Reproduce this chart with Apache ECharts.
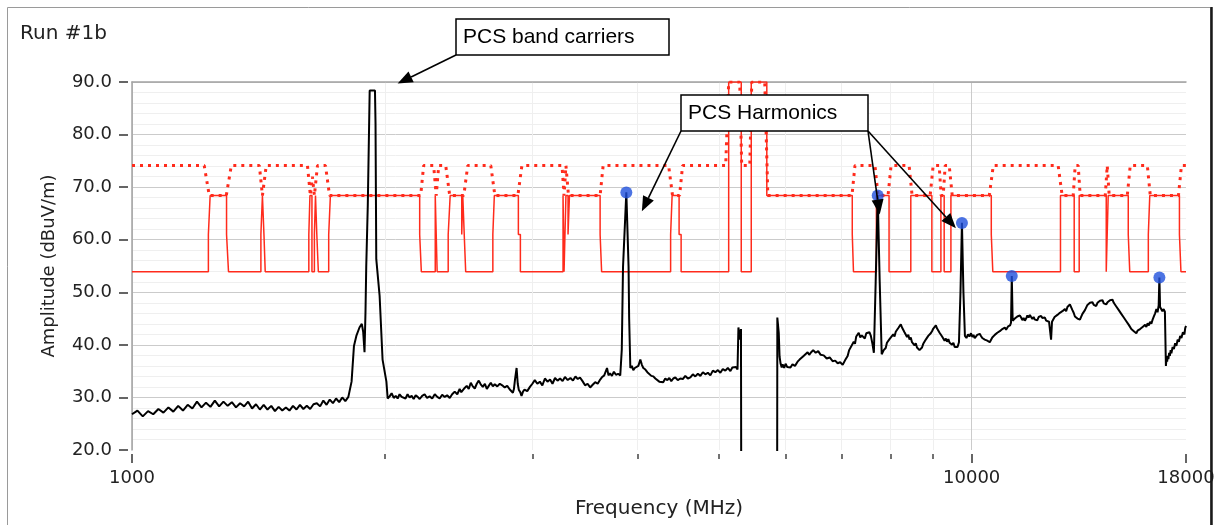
<!DOCTYPE html>
<html>
<head>
<meta charset="utf-8">
<script src="https://cdn.jsdelivr.net/npm/echarts@6/dist/echarts.min.js"></script>
<style>
  html, body { margin: 0; padding: 0; background: #fff; }
  #chart { width: 1216px; height: 525px; }
</style>
</head>
<body>
<div id="chart"></div>
<script>
// Axis ticks
const yTickValues = [20, 30, 40, 50, 60, 70, 80, 90];
const xMinorTicks = [2000, 3000, 4000, 5000, 6000, 7000, 8000, 9000];

// Measured spectrum, [frequency MHz, amplitude dBuV/m]
const spectrumLow = [
  [1000,26.8],[1015,27.5],[1030,26.4],[1045,27.4],[1060,26.8],[1075,27.8],[1090,27.1],[1105,28.1],
  [1120,27.3],[1135,28.4],[1150,27.5],[1165,28.6],[1180,27.9],[1195,29.2],[1210,28.1],[1225,29.0],
  [1240,28.2],[1255,29.4],[1270,28.3],[1285,29.2],[1300,28.4],[1315,29.1],[1330,28.1],[1345,28.9],
  [1360,28.3],[1375,29.2],[1390,27.9],[1405,28.7],[1420,27.7],[1435,28.6],[1450,27.7],[1465,28.4],
  [1480,27.4],[1495,28.2],[1510,27.5],[1525,28.1],[1540,27.5],[1555,28.4],[1570,27.7],[1585,28.6],
  [1600,27.8],[1615,28.4],[1630,27.8],[1645,28.7],[1660,28.9],[1675,28.3],[1690,29.4],[1705,28.6],
  [1720,29.6],[1735,28.9],[1750,29.8],[1765,29.1],[1780,30.0],[1795,29.3],[1810,30.1]
];
const spectrumCarrier = [
  [1826,33.0],[1838,39.8],[1850,41.7],[1866,43.3],[1878,44.0],[1885,42.5],[1892,38.6],[1897,46.2],
  [1901,55.0],[1909,66.5],[1919,88.4],[1947,88.4],[1950,82.0],[1954,56.3],[1972,49.3],[1988,37.2],
  [2009,33.0],[2016,29.8]
];
const spectrumMid = [
  [2027,30.2],[2038,30.8],[2050,29.9],[2061,30.3],[2072,29.8],[2083,30.6],[2095,30.1],[2106,30.4],
  [2117,29.8],[2129,30.6],[2141,30.0],[2153,30.3],[2165,29.7],[2177,30.4],[2189,30.1],[2201,29.7],
  [2216,30.3],[2231,30.6],[2246,29.9],[2262,30.2],[2278,29.8],[2294,30.6],[2310,30.1],[2325,29.8],
  [2341,30.5],[2357,30.1],[2373,30.4],[2390,29.9],[2406,30.6],[2423,31.1],[2440,30.6],[2456,31.6],
  [2467,31.0],[2477,30.8],[2490,31.8],[2504,32.2],[2518,31.6],[2532,32.8],[2546,32.1],[2560,31.7],
  [2574,32.6],[2588,33.2],[2602,32.5],[2617,32.0],[2632,32.6],[2646,31.6],[2660,32.2],[2675,32.8],
  [2690,32.1],[2704,32.5],[2723,32.1],[2742,32.6],[2760,32.3],[2779,31.9],[2798,32.2],[2818,31.5],
  [2830,31.8],[2842,30.9],[2850,31.6],[2859,33.5],[2871,35.6],[2880,32.6],[2889,31.4],[2900,31.0],
  [2910,30.3],[2922,31.1],[2934,31.5],[2956,31.2],[2978,32.0],[2998,32.6],[3018,33.3],[3039,32.6],
  [3060,33.0],[3081,32.3],[3103,33.6],[3125,33.0],[3147,33.4],[3168,32.6],[3190,33.7],[3212,33.2],
  [3235,33.6],[3257,33.1],[3278,33.9],[3303,33.3],[3328,33.7],[3351,33.2],[3374,34.0],[3395,33.5],
  [3416,33.8],[3440,33.1],[3464,32.3],[3488,32.6],[3513,31.9],[3537,32.4],[3562,32.9],[3586,32.6],
  [3611,33.4],[3631,33.9],[3651,34.2],[3665,34.0],[3679,35.6],[3694,34.2],[3709,34.6],[3729,34.1],
  [3749,34.9],[3770,34.3],[3792,34.5],[3815,34.2],
  [3831,39.1],[3844,54.8],[3879,69.0],[3903,54.8],[3909,45.2],[3922,35.6],
  [3938,36.0],[3954,35.2],[3970,35.6],[3987,35.4],[4009,36.0],[4031,37.2],[4048,36.2],[4064,35.6],
  [4087,35.3],[4109,34.8],[4131,34.6],[4154,34.1],[4177,34.0],[4200,33.6],[4223,33.4],[4246,33.0],
  [4269,33.3],[4292,32.9],[4316,33.6],[4341,33.3],[4364,33.7],[4388,33.1],[4412,33.6],[4437,33.8],
  [4467,33.3],[4498,33.6],[4529,33.5],[4560,34.1],[4592,33.6],[4624,33.8],[4655,34.4],[4687,34.0],
  [4720,34.5],[4752,34.1],[4785,34.8],[4818,34.4],[4851,34.7],[4884,34.2],[4918,35.1],[4952,34.8],
  [4986,35.2],[5020,34.7],[5054,35.4],[5089,35.1],[5124,35.6],[5160,35.0],[5188,35.7],[5216,35.4],
  [5240,35.8],[5262,35.3],[5275,43.3],[5300,41.0],[5312,43.0],[5316,12],[5866,12]
];
const spectrumHigh = [
  [5869,45.2],[5892,42.3],[5905,37.8],[5922,36.4],[5940,35.7],[5955,36.3],[5980,35.6],[6003,36.4],
  [6030,35.8],[6052,36.1],[6085,35.7],[6118,36.3],[6160,36.0],[6204,36.8],[6238,37.2],[6270,36.9],
  [6307,37.9],[6340,38.0],[6377,38.6],[6405,38.1],[6432,38.5],[6475,39.0],[6520,38.5],[6565,38.8],
  [6610,38.1],[6665,38.0],[6720,37.4],[6775,37.6],[6830,36.9],[6878,37.0],[6925,36.5],[6973,36.7],
  [7021,36.2],[7069,37.1],[7117,37.9],[7147,39.0],[7177,38.8],[7237,40.6],[7262,40.2],[7287,41.6],
  [7337,42.3],[7368,41.4],[7398,41.8],[7460,41.2],[7491,42.2],[7522,41.9],[7555,42.4],[7585,41.7],
  [7620,40.1],[7648,38.5],[7686,52.0],[7729,68.4],[7771,52.0],[7814,38.2],[7857,39.0],[7900,39.4],
  [7927,40.4],[7955,40.1],[7983,41.1],[8010,40.8],[8065,42.0],[8093,41.6],[8121,42.5],[8150,42.2],
  [8178,43.2],[8206,42.9],[8234,43.9],[8262,43.3],[8290,43.4],[8318,42.4],[8347,42.2],[8376,41.5],
  [8405,41.9],[8433,41.0],[8462,41.4],[8491,40.5],[8520,40.8],[8550,39.9],[8579,40.3],[8608,39.5],
  [8638,39.8],[8667,39.0],[8697,39.3],[8727,39.5],[8757,40.2],[8788,40.4],[8818,41.0],[8848,40.8],
  [8878,41.7],[8909,41.4],[8939,42.2],[8970,42.6],[9002,43.1],[9033,42.8],[9065,43.7],[9096,43.1],
  [9127,43.2],[9158,42.3],[9190,42.5],[9221,41.6],[9253,41.7],[9285,40.8],[9317,41.2],[9349,40.6],
  [9381,41.1],[9413,40.4],[9445,40.7],[9478,40.0],[9511,40.4],[9545,39.6],[9578,39.9],[9620,39.6],
  [9658,40.5],[9698,50.0],[9737,63.2],[9777,50.0],[9817,41.7],[9858,41.3],[9899,42.0],[9940,41.6],
  [9981,42.2],[10019,41.5],[10050,41.9],[10085,41.3],[10119,41.6],[10154,41.9],[10189,41.6],[10224,42.1],
  [10259,41.7],[10295,41.3],[10330,41.5],[10366,41.0],[10401,41.3],[10437,40.8],[10473,41.0],[10509,40.5],
  [10545,40.8],[10582,41.4],[10618,41.1],[10655,41.9],[10691,41.6],[10728,42.3],[10765,42.0],[10802,42.6],
  [10839,42.3],[10877,43.0],[10914,42.7],[10952,43.3],[10990,42.9],[11050,43.5],[11111,43.7],[11140,44.2],
  [11163,53.1],[11190,44.6],[11219,44.3],[11257,45.0],[11296,44.7],[11335,45.4],[11374,45.1],[11413,45.6],
  [11453,45.2],[11492,44.7],[11532,45.1],[11572,44.6],[11611,45.0],[11651,45.6],[11691,45.2],[11731,45.7],
  [11771,45.3],[11812,44.9],[11852,45.3],[11893,44.8],[11934,45.1],[11975,44.7],[12016,45.3],[12057,45.0],
  [12099,45.5],[12140,45.1],[12182,44.9],[12224,45.2],[12266,44.6],[12315,44.8],[12364,44.4],[12400,44.6],
  [12433,41.0],[12465,44.4],[12502,44.7],[12554,45.3],[12606,45.0],[12650,45.7],[12693,45.5],[12737,46.1],
  [12781,45.8],[12825,46.4],[12869,46.1],[12914,46.8],[12958,46.4],[13003,47.2],[13047,46.9],[13092,47.7],
  [13137,47.4],[13183,46.6],[13228,46.1],[13274,45.4],[13319,45.7],[13365,45.0],[13411,45.3],[13457,44.8],
  [13503,45.1],[13550,45.9],[13596,45.6],[13643,46.6],[13690,46.9],[13737,47.6],[13785,47.3],[13832,48.0],
  [13880,47.7],[13928,48.1],[13976,47.6],[14024,47.9],[14072,47.4],[14120,48.0],[14169,47.8],[14218,48.4],
  [14267,48.1],[14316,48.5],[14365,47.9],[14414,48.2],[14464,47.7],[14514,48.1],[14564,47.9],[14614,48.5],
  [14664,48.2],[14714,48.6],[14765,48.0],[14816,47.8],[14867,47.3],[14918,47.1],[14970,46.6],[15021,46.5],
  [15073,45.9],[15125,45.8],[15177,45.2],[15229,45.1],[15282,44.5],[15334,44.4],[15387,43.8],[15440,43.7],
  [15493,43.0],[15546,43.2],[15600,42.6],[15654,42.8],[15708,42.2],[15762,42.7],[15816,42.4],[15870,43.0],
  [15925,42.7],[15980,43.4],[16035,43.1],[16090,43.8],[16146,43.4],[16201,44.1],[16257,43.7],[16313,44.4],
  [16369,44.0],[16425,44.8],[16482,45.4],[16539,46.0],[16596,46.8],[16650,46.2],[16700,47.5],[16733,52.8],
  [16765,47.2],[16820,46.9],[16872,46.4],[16930,46.8],[16988,46.3],[17010,46.5],[17035,36.0],[17064,37.4],
  [17093,36.8],[17122,37.9],[17152,37.3],[17187,38.5],[17222,37.9],[17258,39.0],[17293,38.4],[17352,39.6],
  [17412,39.2],[17472,40.3],[17532,39.8],[17592,41.0],[17653,40.6],[17714,41.7],[17775,41.3],[17848,42.4],
  [17922,42.0],[17961,43.2],[18000,43.6]
];

// Carrier harmonic peaks
const harmonicPeaks = [[3879,69.0],[7729,68.4],[9737,63.2],[11163,53.1],[16733,52.8]];

// Limit mask: lower limit (held until the next breakpoint)
const limitLower = [
  [1000,53.9],[1233,61.0],[1239,68.4],[1296,61.0],[1303,53.9],[1424,61.0],[1430,68.4],[1436,61.0],
  [1441,53.9],[1624,61.0],[1629,68.4],[1638,53.9],[1649,61.0],[1654,68.4],[1660,61.0],[1667,53.9],
  [1715,61.0],[1723,68.4],[2201,61.0],[2211,53.9],[2297,68.4],[2309,53.9],[2380,61.0],[2393,68.4],
  [2470,61.0],[2477,68.4],[2487,61.0],[2497,53.9],[2690,61.0],[2701,68.4],[2885,61.0],[2901,53.9],
  [3261,68.4],[3270,53.9],[3287,68.4],[3306,61.0],[3319,68.4],[3610,61.0],[3625,53.9],[4380,61.0],
  [4398,68.4],[4483,61.0],[4508,53.9],[5136,90],[5316,53.9],[5464,90],[5702,68.4],[7208,61.0],
  [7232,53.9],[7700,68.4],[7973,53.9],[8463,68.4],[8966,53.9],[9191,68.4],[9274,53.9],[9447,68.4],
  [10553,61.0],[10597,53.9],[12758,68.4],[13247,53.9],[13430,68.4],[14464,53.9],[14542,68.4],[15364,61.0],
  [15427,53.9],[16233,61.0],[16298,68.4],[17679,61.0],[17752,53.9],[18000,53.9]
];
// Limit mask: upper limit
const limitUpper = [
  [1000,74.1],[1219,74.1],[1236,68.4],[1295,68.4],[1313,74.1],[1418,74.1],[1430,68.4],[1437,68.4],
  [1445,74.1],[1618,74.1],[1631,68.4],[1640,72.0],[1649,68.4],[1663,74.1],[1700,74.1],[1719,68.4],
  [2207,68.4],[2225,74.1],[2287,74.1],[2303,68.4],[2319,74.1],[2364,74.1],[2390,68.4],[2484,68.4],
  [2511,74.1],[2675,74.1],[2705,68.4],[2881,68.4],[2913,74.1],[3252,74.1],[3270,68.4],[3287,74.1],
  [3310,68.4],[3610,68.4],[3640,74.1],[4356,74.1],[4403,68.4],[4489,68.4],[4526,74.1],[5094,74.1],
  [5136,90],[5294,90],[5323,74.1],[5442,74.1],[5472,90],[5670,90],[5718,68.4],[7202,68.4],
  [7261,74.1],[7671,74.1],[7736,68.4],[7951,68.4],[8017,74.1],[8424,74.1],[8493,68.4],[8924,68.4],
  [8998,74.1],[9148,74.1],[9198,68.4],[9249,68.4],[9300,74.1],[9403,74.1],[9481,68.4],[10496,68.4],
  [10611,74.1],[12677,74.1],[12817,68.4],[13211,68.4],[13283,74.1],[13393,74.1],[13467,68.4],[14425,68.4],
  [14503,74.1],[14582,68.4],[15323,68.4],[15448,74.1],[16189,74.1],[16321,68.4],[17631,68.4],[17777,74.1],
  [18000,74.1]
];

// Points the callout arrows refer to, [frequency MHz, amplitude dBuV/m]
const carrierArrowTarget = [2072, 89.7];
const harmonicArrowTargets = [[4048, 65.4], [7771, 64.8], [9578, 62.2]];

const spectrum = spectrumLow.concat(spectrumCarrier, spectrumMid, spectrumHigh);

const FONT = '"DejaVu Sans", Verdana, sans-serif';
const CALLOUT_FONT = '21px "Liberation Sans", Arial, sans-serif';
const RED = '#ff2b1c';
const GRID_LINE = '#cbcbcb';
const MINOR_LINE = '#efefef';

const chart = echarts.init(document.getElementById('chart'));

chart.setOption({
  animation: false,
  backgroundColor: '#ffffff',
  title: {
    text: 'Run #1b', left: 15, top: 19,
    textStyle: { fontFamily: FONT, fontSize: 20, fontWeight: 'normal', color: '#222' }
  },
  grid: { left: 132, right: 30, top: 82, bottom: 75, containLabel: false, outerBoundsMode: 'none' },
  xAxis: [
    {
      type: 'log', logBase: 10, min: 1000, max: 18000, position: 'bottom', offset: 4,
      name: 'Frequency (MHz)', nameLocation: 'middle', nameGap: 45,
      nameTextStyle: { fontFamily: FONT, fontSize: 20, color: '#222' },
      axisLine: { show: false },
      axisTick: { show: true, length: 9, lineStyle: { color: '#333', width: 1.5 } },
      axisLabel: {
        fontFamily: FONT, fontSize: 18, color: '#222', margin: 15,
        showMinLabel: true, showMaxLabel: true,
        formatter: v => String(Math.round(v))
      },
      splitLine: { show: true, showMinLine: false, showMaxLine: false, lineStyle: { color: GRID_LINE, width: 1 } }
    },
    {
      type: 'log', logBase: 10, min: 1000, max: 18000, position: 'bottom', offset: 4,
      axisLine: { show: false },
      axisTick: { show: true, customValues: xMinorTicks, length: 5, lineStyle: { color: '#444', width: 1.5 } },
      axisLabel: { show: false },
      splitLine: { show: true, lineStyle: { color: MINOR_LINE, width: 1 } }
    },
    {
      type: 'log', logBase: 10, min: 1000, max: 18000, position: 'top',
      axisLine: { show: true, lineStyle: { color: '#a3a3a3', width: 1.5 } },
      axisTick: { show: false }, axisLabel: { show: false }, splitLine: { show: false }
    }
  ],
  yAxis: [
    {
      type: 'value', min: 20, max: 90, interval: 10, position: 'left',
      name: 'Amplitude (dBuV/m)', nameLocation: 'middle', nameRotate: 90, nameGap: 74,
      nameTextStyle: { fontFamily: FONT, fontSize: 18, color: '#222' },
      axisLine: { show: true, onZero: false, lineStyle: { color: '#a3a3a3', width: 1.5 } },
      axisTick: { show: false }, axisLabel: { show: false },
      splitLine: { show: true, showMinLine: false, lineStyle: { color: GRID_LINE, width: 1 } },
      minorTick: { show: false, splitNumber: 5 },
      minorSplitLine: { show: true, lineStyle: { color: MINOR_LINE, width: 1 } }
    },
    {
      type: 'value', min: 20, max: 90, interval: 10, position: 'left', offset: 4,
      axisLine: { show: false },
      axisTick: { show: true, length: 9, customValues: yTickValues, lineStyle: { color: '#333', width: 1.5 } },
      axisLabel: {
        fontFamily: FONT, fontSize: 18, color: '#222', margin: 16,
        customValues: yTickValues, formatter: v => v.toFixed(1)
      },
      splitLine: { show: false }
    }
  ],
  series: [
    {
      name: 'Lower limit', type: 'line', step: 'end', data: limitLower,
      xAxisIndex: 0, yAxisIndex: 0, symbol: 'none', z: 2,
      lineStyle: { color: RED, width: 1.5 }
    },
    {
      name: 'Upper limit', type: 'line', data: limitUpper,
      xAxisIndex: 0, yAxisIndex: 0, symbol: 'none', z: 3,
      lineStyle: { color: RED, width: 3, type: [3, 5] }
    },
    {
      name: 'Spectrum', type: 'line', data: spectrum,
      xAxisIndex: 0, yAxisIndex: 0, symbol: 'none', z: 4,
      lineStyle: { color: '#000', width: 2 }
    },
    {
      name: 'Harmonics', type: 'scatter', data: harmonicPeaks,
      xAxisIndex: 0, yAxisIndex: 0, symbol: 'circle', symbolSize: 12, z: 5,
      itemStyle: { color: '#1f50dc' }
    }
  ]
});

// Callout boxes with arrows pointing into the plot
const toPx = p => chart.convertToPixel({ xAxisIndex: 0, yAxisIndex: 0 }, p);

function arrow(start, tip) {
  const dx = tip[0] - start[0], dy = tip[1] - start[1];
  const len = Math.hypot(dx, dy);
  const ux = dx / len, uy = dy / len;
  const head = 15, half = 6;
  const bx = tip[0] - ux * head, by = tip[1] - uy * head;
  return [
    { type: 'line', z: 100, shape: { x1: start[0], y1: start[1], x2: bx, y2: by },
      style: { stroke: '#000', lineWidth: 1.6 } },
    { type: 'polygon', z: 100,
      shape: { points: [tip, [bx - uy * half, by + ux * half], [bx + uy * half, by - ux * half]] },
      style: { fill: '#000' } }
  ];
}

function callout(x, y, w, h, text) {
  return [
    { type: 'rect', z: 101, shape: { x: x, y: y, width: w, height: h },
      style: { fill: '#fff', stroke: '#000', lineWidth: 1.5 } },
    { type: 'text', z: 102, x: x + 7, y: y + h / 2,
      style: { text: text, font: CALLOUT_FONT, fill: '#000', verticalAlign: 'middle' } }
  ];
}

// Outer frame: light left/top edges, dark right edge
const graphics = [
  { type: 'rect', z: 0, silent: true, shape: { x: 7.5, y: 7.5, width: 1203, height: 540 },
    style: { fill: 'none', stroke: '#9a9a9a', lineWidth: 1 } },
  { type: 'line', z: 1, silent: true, shape: { x1: 1211.5, y1: 7, x2: 1211.5, y2: 525 },
    style: { stroke: '#1a1a1a', lineWidth: 2.5 } }
];
graphics.push(...arrow([456, 55], toPx(carrierArrowTarget)));
graphics.push(...callout(456, 19, 213, 36, 'PCS band carriers'));
graphics.push(...arrow([681, 131], toPx(harmonicArrowTargets[0])));
graphics.push(...arrow([868, 131], toPx(harmonicArrowTargets[1])));
graphics.push(...arrow([868, 131], toPx(harmonicArrowTargets[2])));
graphics.push(...callout(681, 95, 187, 36, 'PCS Harmonics'));

chart.setOption({ graphic: graphics });
</script>
</body>
</html>
